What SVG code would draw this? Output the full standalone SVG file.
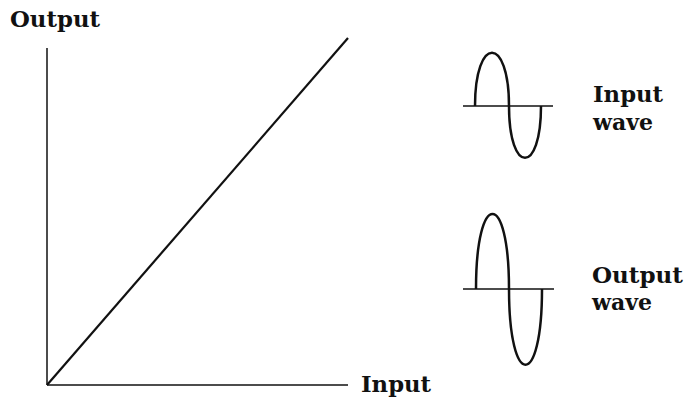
<svg xmlns="http://www.w3.org/2000/svg" width="686" height="403" viewBox="0 0 686 403">
<style>
.t{font-family:"DejaVu Serif","Liberation Serif",serif;font-weight:bold;font-size:22px;fill:#111}
.ax{stroke:#111;stroke-width:1.5;fill:none}
.w{stroke:#111;stroke-width:2.5;fill:none}
</style>
<rect width="686" height="403" fill="#fff"/>
<g id="axes">
<line class="ax" x1="47" y1="48" x2="47" y2="385"/>
<line class="ax" x1="47" y1="385" x2="348" y2="385"/>
<text class="t" x="10" y="27" textLength="90" lengthAdjust="spacingAndGlyphs">Output</text>
<text class="t" x="361" y="392" textLength="70" lengthAdjust="spacingAndGlyphs">Input</text>
</g>
<g id="connectors">
<line x1="47" y1="385" x2="348" y2="38" stroke="#111" stroke-width="2.2"/>
</g>
<g id="input-wave">
<line class="ax" x1="463" y1="106" x2="553" y2="106"/>
<path class="w" d="M475,106 C475,35 509,35 509,106 C509,175 541,175 541,106"/>
<text class="t" x="593" y="102" textLength="70" lengthAdjust="spacingAndGlyphs">Input</text>
<text class="t" x="593" y="130" textLength="60" lengthAdjust="spacingAndGlyphs">wave</text>
</g>
<g id="output-wave">
<line class="ax" x1="463" y1="289" x2="554" y2="289"/>
<path class="w" d="M476,289 C476,189 509,189 509,289 C509,390 542,390 542,289"/>
<text class="t" x="592" y="283" textLength="91" lengthAdjust="spacingAndGlyphs">Output</text>
<text class="t" x="592" y="310" textLength="60" lengthAdjust="spacingAndGlyphs">wave</text>
</g>
</svg>
